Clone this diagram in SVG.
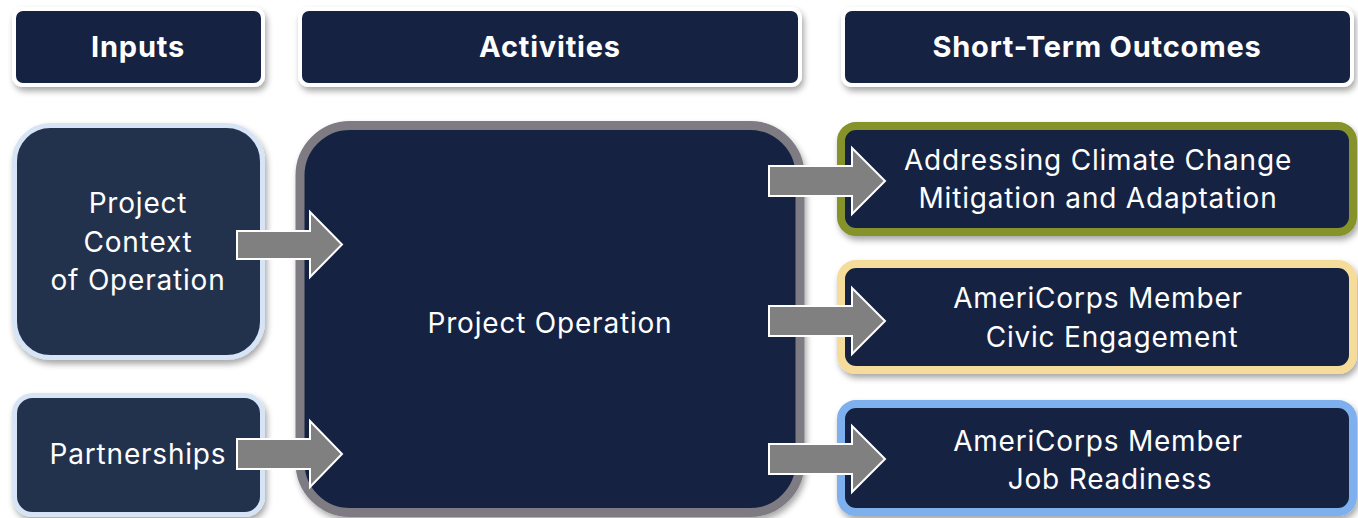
<svg xmlns="http://www.w3.org/2000/svg" width="1358" height="518" viewBox="0 0 1358 518">
  <defs>
    <filter id="shadow" x="-10%" y="-10%" width="125%" height="130%">
      <feDropShadow dx="2" dy="4" stdDeviation="3" flood-color="#000" flood-opacity="0.35"/>
    </filter>
  </defs>
  <style>
    .head rect { fill: #132442; stroke: #ffffff; stroke-width: 4; filter: url(#shadow); }
    .head text { font-family: Inter, "Liberation Sans", sans-serif; font-weight: 700; font-size: 29px; letter-spacing: 0.8px; fill: #ffffff; text-anchor: middle; }
    .input rect { fill: #22304d; stroke: #d6e4f5; stroke-width: 5; filter: url(#shadow); }
    .outcome rect { fill: #132442; stroke-width: 8; filter: url(#shadow); }
    .label { font-family: Inter, "Liberation Sans", sans-serif; font-size: 28px; letter-spacing: 0.8px; fill: #ffffff; text-anchor: middle; }
    .arrow { fill: #808080; stroke: #ffffff; stroke-width: 2; stroke-linejoin: miter; }
  </style>

  <!-- column headers -->
  <g id="head-inputs" class="head">
    <rect x="14" y="9" width="249" height="76" rx="9"/>
    <text x="138" y="57">Inputs</text>
  </g>
  <g id="head-activities" class="head">
    <rect x="300" y="9" width="500" height="76" rx="9"/>
    <text x="550" y="57">Activities</text>
  </g>
  <g id="head-outcomes" class="head">
    <rect x="843" y="9" width="509" height="76" rx="9"/>
    <text x="1097" y="57">Short-Term Outcomes</text>
  </g>

  <!-- inputs -->
  <g id="input-context" class="input">
    <rect x="14.5" y="125.5" width="248" height="232" rx="36"/>
    <text class="label" x="138" y="213">Project</text>
    <text class="label" x="138" y="252">Context</text>
    <text class="label" x="138" y="290">of Operation</text>
  </g>
  <g id="input-partnerships" class="input">
    <rect x="14.5" y="395.5" width="248" height="119" rx="18"/>
    <text class="label" x="138" y="464">Partnerships</text>
  </g>

  <!-- activity -->
  <g id="activity-operation">
    <rect x="300" y="125.5" width="500" height="387" rx="50" fill="#132442" stroke="#7e7b82" stroke-width="9" filter="url(#shadow)"/>
    <text class="label" x="550" y="333">Project Operation</text>
  </g>

  <!-- outcomes -->
  <g id="outcome-climate" class="outcome">
    <rect x="841" y="126" width="512" height="106" rx="15" stroke="#86922a"/>
    <text class="label" x="1098" y="170">Addressing Climate Change</text>
    <text class="label" x="1098" y="208">Mitigation and Adaptation</text>
  </g>
  <g id="outcome-civic" class="outcome">
    <rect x="841" y="264" width="512" height="106" rx="15" stroke="#f5dc9a"/>
    <text class="label" x="1098" y="308">AmeriCorps Member</text>
    <text class="label" x="1112" y="347">Civic Engagement</text>
  </g>
  <g id="outcome-job" class="outcome">
    <rect x="841" y="404" width="512" height="108" rx="15" stroke="#7fb0ee"/>
    <text class="label" x="1098" y="451">AmeriCorps Member</text>
    <text class="label" x="1110" y="489">Job Readiness</text>
  </g>

  <!-- connectors -->
  <g id="connectors">
    <polygon class="arrow" points="237,231 310,231 310,212 342,244.5 310,277 310,259 237,259"/>
    <polygon class="arrow" points="237,439 310,439 310,421 342,454 310,487 310,469 237,469"/>
    <polygon class="arrow" points="769,166 852,166 852,148 885,181 852,214 852,196 769,196"/>
    <polygon class="arrow" points="769,306 852,306 852,288 885,321 852,354 852,336 769,336"/>
    <polygon class="arrow" points="769,444 852,444 852,426 885,459 852,492 852,474 769,474"/>
  </g>
</svg>
